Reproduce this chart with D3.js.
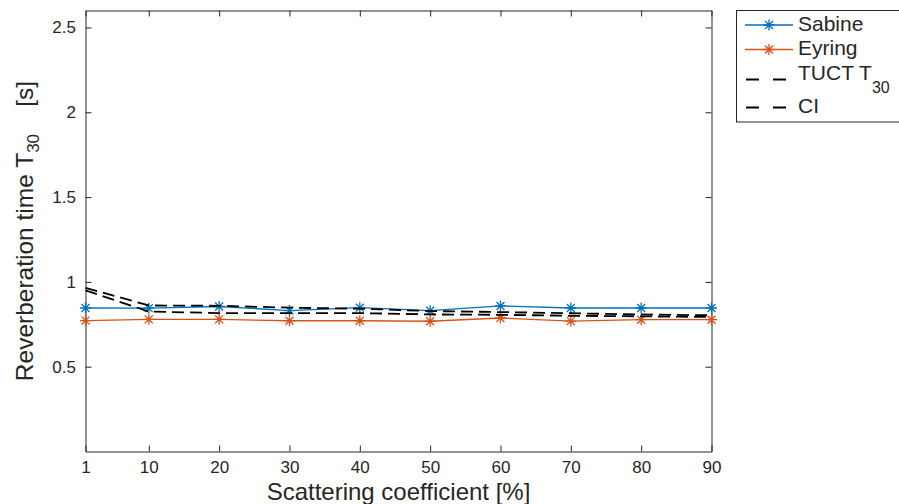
<!DOCTYPE html>
<html>
<head>
<meta charset="utf-8">
<script src="https://cdn.jsdelivr.net/npm/d3@7"></script>
<style>
  html, body { margin: 0; padding: 0; background: #fff; }
  svg { display: block; }
  text { font-family: "Liberation Sans", Arial, Helvetica, sans-serif; fill: #262626; }
</style>
</head>
<body>
<svg id="chart" width="899" height="504"></svg>
<script>
// Scattering coefficient [%] at which each simulation was run
const scattering = [1, 10, 20, 30, 40, 50, 60, 70, 80, 90];
// Reverberation time T30 [s] per method
const sabine = [0.846, 0.845, 0.855, 0.831, 0.848, 0.830, 0.858, 0.846, 0.846, 0.846];
const eyring = [0.772, 0.779, 0.779, 0.771, 0.771, 0.768, 0.787, 0.769, 0.777, 0.777];
const tuct   = [0.965, 0.861, 0.859, 0.848, 0.842, 0.828, 0.822, 0.815, 0.808, 0.803];
const ci     = [0.950, 0.825, 0.816, 0.816, 0.816, 0.808, 0.806, 0.800, 0.797, 0.793];

const xTicks = [1, 10, 20, 30, 40, 50, 60, 70, 80, 90];
const yTicks = [0.5, 1, 1.5, 2, 2.5];

const axisColor = "#262626";
const blue = "#0072BD";
const orange = "#D95319";

const svg = d3.select("#chart");

const plot = { left: 85.5, right: 711.5, top: 10.5, bottom: 451.5 };
const x = d3.scaleLinear().domain([1, 90]).range([plot.left, plot.right]);
const y = d3.scaleLinear().domain([0, 2.6]).range([plot.bottom, plot.top]);

// Axes (inward ticks on all four sides, like a boxed plot)
const gx = svg.append("g").attr("transform", `translate(0,${plot.bottom})`)
  .call(d3.axisBottom(x).tickValues(xTicks).tickFormat(d3.format("d"))
    .tickSizeInner(-6).tickSizeOuter(0).tickPadding(9));
const gxt = svg.append("g").attr("transform", `translate(0,${plot.top})`)
  .call(d3.axisTop(x).tickValues(xTicks).tickFormat("")
    .tickSizeInner(-6).tickSizeOuter(0));
const gy = svg.append("g").attr("transform", `translate(${plot.left},0)`)
  .call(d3.axisLeft(y).tickValues(yTicks).tickFormat(d => d3.format("")(d))
    .tickSizeInner(-6).tickSizeOuter(0).tickPadding(9.5));
const gyr = svg.append("g").attr("transform", `translate(${plot.right},0)`)
  .call(d3.axisRight(y).tickValues(yTicks).tickFormat("")
    .tickSizeInner(-6).tickSizeOuter(0));

[gx, gxt, gy, gyr].forEach(g => {
  g.selectAll("path.domain").attr("stroke", axisColor).attr("stroke-width", 1);
  g.selectAll(".tick line").attr("stroke", axisColor).attr("stroke-width", 1);
  g.selectAll(".tick text").attr("font-size", 17)
    .attr("font-family", "'Liberation Sans', Arial, Helvetica, sans-serif")
    .attr("fill", axisColor);
});

// Axis titles
svg.append("text")
  .attr("x", (plot.left + plot.right) / 2).attr("y", 500)
  .attr("text-anchor", "middle").attr("font-size", 24)
  .text("Scattering coefficient [%]");

const yl = svg.append("text")
  .attr("transform", "translate(33,231) rotate(-90)")
  .attr("text-anchor", "middle").attr("font-size", 24.5);
yl.append("tspan").text("Reverberation time T");
yl.append("tspan").attr("font-size", 17).attr("dy", 6).text("30");
yl.append("tspan").attr("dy", -6).text("\u00a0\u00a0\u00a0\u00a0[s]");

// Series lines
const line = d3.line().x((d, i) => x(scattering[i])).y(d => y(d));

const asterisk = (r) => {
  const d = r * 0.72;
  return `M0,${-r}L0,${r}M${-r},0L${r},0M${-d},${-d}L${d},${d}M${-d},${d}L${d},${-d}`;
};

function drawSeries(values, color) {
  svg.append("path").datum(values)
    .attr("d", line).attr("fill", "none")
    .attr("stroke", color).attr("stroke-width", 1.3);
  svg.append("g").selectAll("path").data(values).join("path")
    .attr("transform", (d, i) => `translate(${x(scattering[i])},${y(d)})`)
    .attr("d", asterisk(5.5)).attr("fill", "none")
    .attr("stroke", color).attr("stroke-width", 1.3);
}
drawSeries(sabine, blue);
drawSeries(eyring, orange);

[tuct, ci].forEach(values => {
  svg.append("path").datum(values)
    .attr("d", line).attr("fill", "none")
    .attr("stroke", "#000").attr("stroke-width", 1.8)
    .attr("stroke-dasharray", "12,6");
});

// Legend
const lg = svg.append("g");
lg.append("rect")
  .attr("x", 736.5).attr("y", plot.top).attr("width", 220).attr("height", 111.5)
  .attr("fill", "#fff").attr("stroke", axisColor).attr("stroke-width", 1);

const legendItems = [
  { label: "Sabine", color: blue, marker: true, ly: 25, ty: 31 },
  { label: "Eyring", color: orange, marker: true, ly: 49.5, ty: 55 },
  { label: "TUCT T", sub: "30", color: "#000", marker: false, ly: 79.5, ty: 80 },
  { label: "CI", color: "#000", marker: false, ly: 107.5, ty: 112.5 }
];

legendItems.forEach(it => {
  if (it.marker) {
    lg.append("line").attr("x1", 745).attr("x2", 793)
      .attr("y1", it.ly).attr("y2", it.ly)
      .attr("stroke", it.color).attr("stroke-width", 1.3);
    lg.append("path").attr("transform", `translate(769,${it.ly})`)
      .attr("d", asterisk(5.5)).attr("fill", "none")
      .attr("stroke", it.color).attr("stroke-width", 1.3);
  } else {
    lg.append("line").attr("x1", 746).attr("x2", 793)
      .attr("y1", it.ly).attr("y2", it.ly)
      .attr("stroke", it.color).attr("stroke-width", 1.8)
      .attr("stroke-dasharray", "13,14");
  }
  const t = lg.append("text").attr("x", 798).attr("y", it.ty).attr("font-size", 21);
  t.append("tspan").text(it.label);
  if (it.sub) t.append("tspan").attr("font-size", 16).attr("dy", 13).text(it.sub);
});
</script>
</body>
</html>
